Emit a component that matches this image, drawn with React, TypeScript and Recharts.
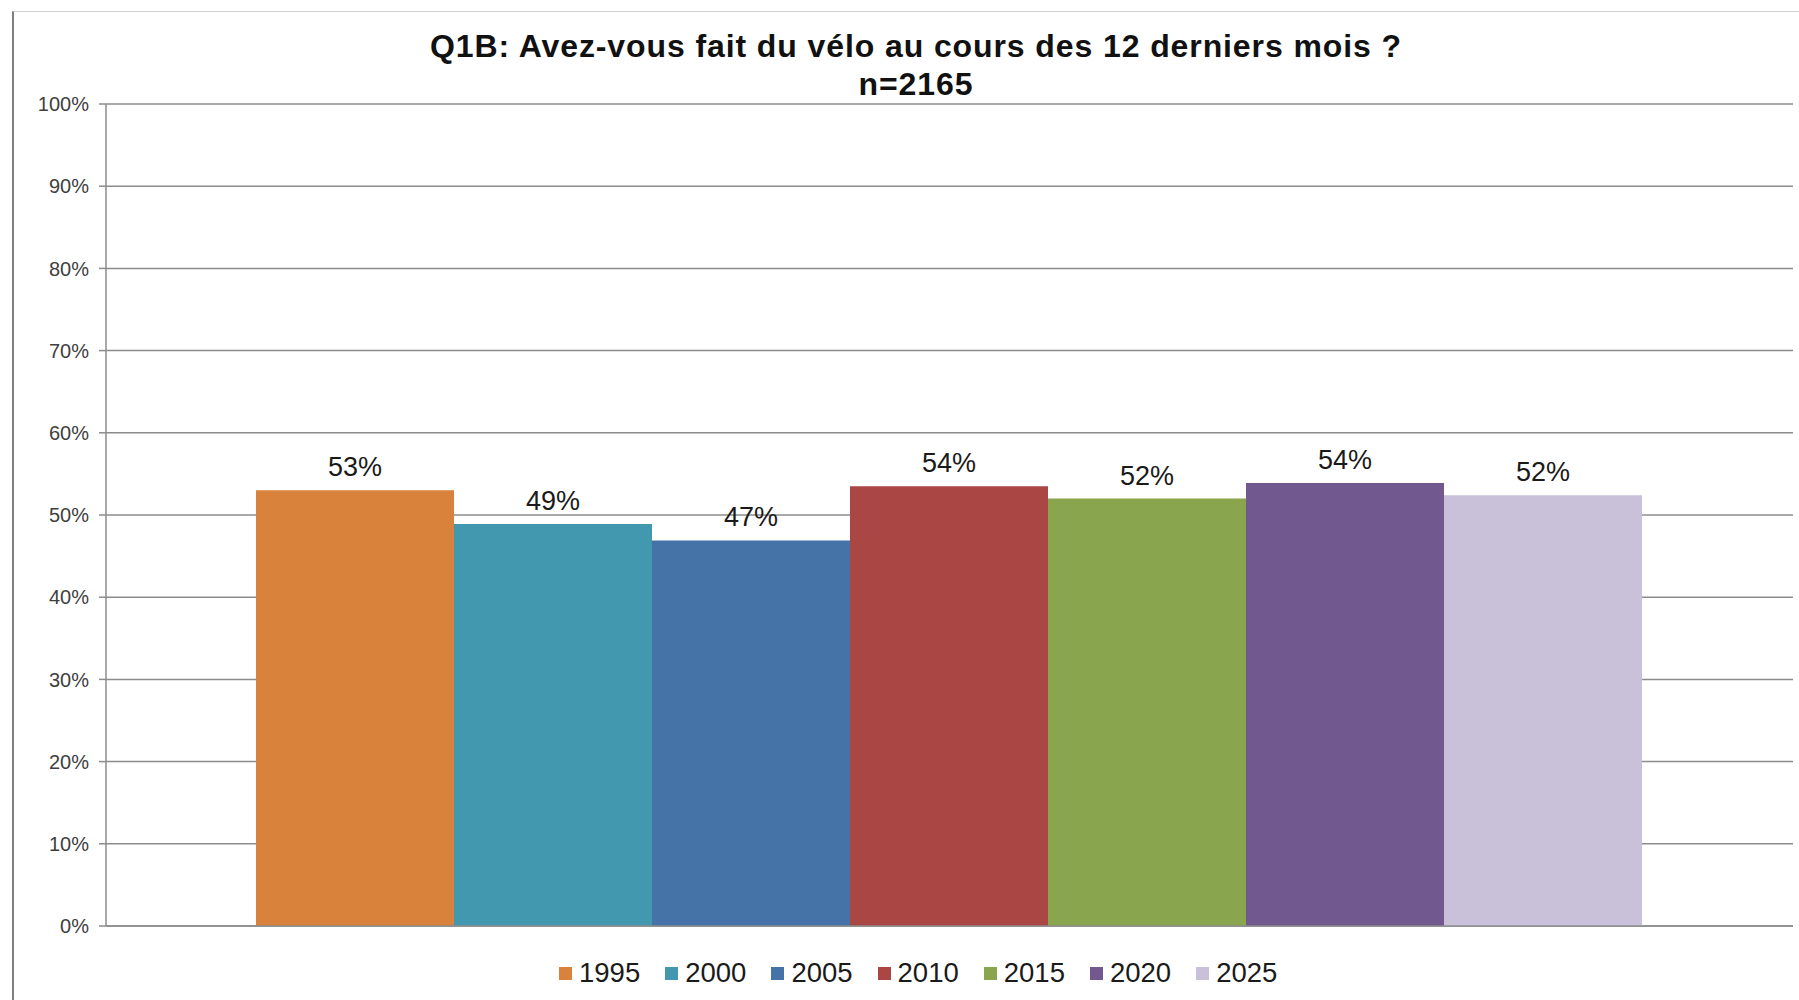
import React from "react";
import { BarChart, Bar, XAxis, YAxis, CartesianGrid, LabelList, Legend } from "recharts";

const categories = ["Q1B"];
const years = ["1995", "2000", "2005", "2010", "2015", "2020", "2025"];
const values = [53.0, 48.9, 46.9, 53.5, 52.0, 53.9, 52.4];
const labels = ["53%", "49%", "47%", "54%", "52%", "54%", "52%"];
const colors = ["#D9823B", "#4298AF", "#4572A7", "#AA4643", "#89A54E", "#71588F", "#C9C0DA"];
const yTicks = [0, 10, 20, 30, 40, 50, 60, 70, 80, 90, 100];
const titleLines = ["Q1B: Avez-vous fait du vélo au cours des 12 derniers mois ?", "n=2165"];

const data = categories.map((c) => {
  const row: Record<string, any> = { cat: c };
  years.forEach((y, i) => {
    row[y] = values[i];
  });
  return row;
});

const FONT = "'Liberation Sans', Arial, sans-serif";

const LegendContent = () => (
  <div style={{ width: 1799, height: 60, boxSizing: "border-box", paddingTop: 32, paddingLeft: 559, display: "flex", alignItems: "center", fontFamily: FONT }}>
    {years.map((y, i) => (
      <div key={y} style={{ display: "flex", alignItems: "center", marginRight: 25, height: 28 }}>
        <span style={{ display: "inline-block", width: 13, height: 13, background: colors[i], marginRight: 7 }} />
        <span style={{ fontSize: 27.5, color: "#1a1a1a", lineHeight: "28px" }}>{y}</span>
      </div>
    ))}
  </div>
);

export default function App() {
  return (
    <div style={{ position: "absolute", left: 0, top: 0, width: 1799, height: 1000, background: "#fff", overflow: "hidden" }}>
      <div style={{ position: "absolute", left: 12, top: 11, width: 1787, height: 989, borderTop: "1px solid #d2d2d2", borderLeft: "2px solid #7f7f7f", boxSizing: "border-box" }} />
      <div style={{ position: "absolute", left: 0, top: 0 }}>
        <BarChart
          width={1799}
          height={1000}
          data={data}
          margin={{ top: 104, right: 6, left: 26, bottom: 13 }}
          barCategoryGap={150}
          barGap={0}
        >
          <CartesianGrid vertical={false} stroke="#8c8c8c" strokeWidth={1.5} />
          <XAxis dataKey="cat" tick={false} height={1} axisLine={{ stroke: "#8c8c8c", strokeWidth: 1.5 }} tickLine={false} />
          <YAxis
            width={80}
            domain={[0, 100]}
            ticks={yTicks}
            interval={0}
            tickFormatter={(v: number) => `${v}%`}
            tick={{ fontSize: 20, fill: "#404040", fontFamily: FONT }}
            tickSize={7}
            tickMargin={10}
            axisLine={{ stroke: "#8c8c8c", strokeWidth: 1.5 }}
            tickLine={{ stroke: "#8c8c8c", strokeWidth: 1.5 }}
          />
          <Legend verticalAlign="bottom" layout="horizontal" wrapperStyle={{ left: 0, width: 1799 }} content={<LegendContent />} />
          {years.map((y, i) => (
            <Bar key={y} dataKey={y} fill={colors[i]} isAnimationActive={false}>
              <LabelList
                dataKey={y}
                position="top"
                offset={14}
                formatter={() => labels[i]}
                style={{ fontSize: 27, fill: "#1a1a1a", fontFamily: FONT }}
              />
            </Bar>
          ))}
        </BarChart>
      </div>
      <div style={{ position: "absolute", left: 316, top: 27, width: 1200, textAlign: "center", fontFamily: FONT, fontWeight: "bold", fontSize: 32, letterSpacing: 0.9, lineHeight: "38px", color: "#111" }}>
        {titleLines.map((t) => (
          <div key={t}>{t}</div>
        ))}
      </div>
    </div>
  );
}
